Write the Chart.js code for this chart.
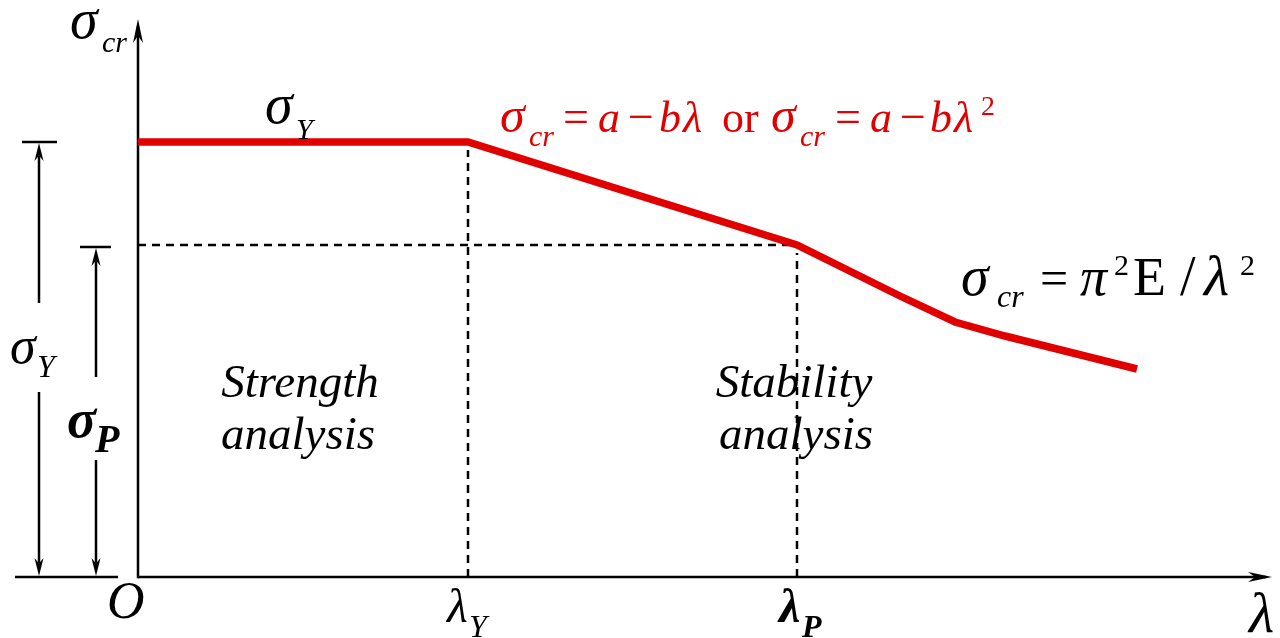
<!DOCTYPE html>
<html>
<head>
<meta charset="utf-8">
<title>Critical stress diagram</title>
<script src="https://cdn.jsdelivr.net/npm/chart.js@4/dist/chart.umd.min.js"></script>
<style>
  html, body { margin: 0; padding: 0; background: #fff; }
  canvas { display: block; }
</style>
</head>
<body>
<canvas id="sigmaChart" width="1280" height="638"></canvas>
<script>
// === Curve data (lambda on x, sigma_cr on y) ===
const lambdaPts = [0, 33.0, 65.9, 76.2, 81.7, 86.7, 99.9];
const sigmaPts = [43.5, 43.5, 33.2, 28.1, 25.5, 24.1, 20.8];

// characteristic values
const lambdaY = 33.0;
const lambdaP = 65.9;
const sigmaY = 43.5;
const sigmaP = 33.2;

// axis extents
const lambdaMax = 113.2;
const sigmaMax = 55.5;

const RED = "#e00000";
const SERIF = '"Liberation Serif", "DejaVu Serif", serif';

function font(size, style) {
    return (style || "") + " " + size + "px " + SERIF;
}

// each piece: text, font, left x, baseline y
function place(ctx, pieces, color) {
    ctx.textAlign = "left";
    ctx.textBaseline = "alphabetic";
    ctx.fillStyle = color || "#000";
    pieces.forEach(p => {
        ctx.font = p[1];
        ctx.fillText(p[0], p[2], p[3]);
    });
}

// stealth style arrow head, tip at (x, y) pointing along angle
function arrowHead(ctx, x, y, angle, len, half) {
    ctx.save();
    ctx.translate(x, y);
    ctx.rotate(angle);
    ctx.beginPath();
    ctx.moveTo(0, 0);
    ctx.lineTo(-len, -half);
    ctx.lineTo(-len * 0.7, 0);
    ctx.lineTo(-len, half);
    ctx.closePath();
    ctx.fillStyle = "#000";
    ctx.fill();
    ctx.restore();
}

function line(ctx, x1, y1, x2, y2, w) {
    ctx.beginPath();
    ctx.moveTo(x1, y1);
    ctx.lineTo(x2, y2);
    ctx.lineWidth = w || 2;
    ctx.strokeStyle = "#000";
    ctx.stroke();
}

const decorations = {
    id: "decorations",
    beforeDatasetsDraw(chart) {
        const ctx = chart.ctx;
        const xs = chart.scales.x, ys = chart.scales.y;
        const x0 = xs.getPixelForValue(0), y0 = ys.getPixelForValue(0);
        ctx.save();
        // axes
        line(ctx, x0, y0, xs.getPixelForValue(lambdaMax) - 4, y0, 2.5);
        line(ctx, x0, y0 + 1.25, x0, ys.getPixelForValue(sigmaMax) + 4, 2.5);
        arrowHead(ctx, xs.getPixelForValue(lambdaMax) + 2, y0, 0, 24, 5);
        arrowHead(ctx, x0, ys.getPixelForValue(sigmaMax) - 3, -Math.PI / 2, 24, 5);
        ctx.restore();
    },
    afterDatasetsDraw(chart) {
        const ctx = chart.ctx;
        const xs = chart.scales.x, ys = chart.scales.y;
        const y0 = ys.getPixelForValue(0);
        const yY = ys.getPixelForValue(sigmaY);
        const yP = ys.getPixelForValue(sigmaP) + 2;
        ctx.save();

        // dimension for sigma_Y
        const dY = 39;
        line(ctx, 22, yY, 57, yY, 2.5);
        line(ctx, 15, y0, 118, y0, 2.5);
        line(ctx, dY, yY + 14, dY, 303, 2.5);
        line(ctx, dY, 392, dY, y0 - 14, 2.5);
        arrowHead(ctx, dY, yY + 1, -Math.PI / 2, 18, 4.5);
        arrowHead(ctx, dY, y0 - 1, Math.PI / 2, 18, 4.5);

        // dimension for sigma_P
        const dP = 96;
        line(ctx, 80, yP, 111, yP, 2.5);
        line(ctx, dP, yP + 14, dP, 377, 2.5);
        line(ctx, dP, 460, dP, y0 - 14, 2.5);
        arrowHead(ctx, dP, yP + 1, -Math.PI / 2, 18, 4.5);
        arrowHead(ctx, dP, y0 - 1, Math.PI / 2, 18, 4.5);

        // axis titles and origin
        place(ctx, [
            ["σ", font(56, "italic"), 70, 38],
            ["cr", font(30, "italic"), 102, 52],
            ["λ", font(58, "italic"), 1249, 632],
            ["O", font(52, "italic"), 107, 618]
        ]);

        // lambda ticks
        const lx = xs.getPixelForValue(lambdaY), px = xs.getPixelForValue(lambdaP);
        place(ctx, [
            ["λ", font(48, "italic"), lx - 21, 622],
            ["Y", font(32, "italic"), lx + 1, 637],
            ["λ", font(48, "bold italic"), px - 18, 622],
            ["P", font(32, "bold italic"), px + 5, 637]
        ]);

        // sigma labels
        place(ctx, [
            ["σ", font(56, "italic"), 265, 123],
            ["Y", font(30, "italic"), 296, 139],
            ["σ", font(52, "italic"), 10, 363],
            ["Y", font(32, "italic"), 37, 377],
            ["σ", font(54, "bold italic"), 67, 437],
            ["P", font(40, "bold italic"), 95, 452]
        ]);

        // formula for the intermediate range
        const f = font(44), fi = font(44, "italic"), fs = font(50, "italic"), fc = font(30, "italic");
        const by = 132, sy = 146;
        place(ctx, [
            ["σ", fs, 500, by], ["cr", fc, 529, sy],
            ["=", font(46), 563, by], ["a", fi, 598, by], ["−", font(46), 628, by],
            ["b", fi, 659, by], ["λ", fi, 683, by],
            ["or", f, 722, by],
            ["σ", fs, 771, by], ["cr", fc, 800, sy],
            ["=", font(46), 835, by], ["a", fi, 870, by], ["−", font(46), 900, by],
            ["b", fi, 930, by], ["λ", fi, 954, by],
            ["2", font(28), 981, by - 17]
        ], RED);

        // Euler formula
        const ey = 295;
        place(ctx, [
            ["σ", font(56, "italic"), 961, ey], ["cr", font(32, "italic"), 997, ey + 12],
            ["=", font(50), 1040, ey], ["π", font(54, "italic"), 1080, ey],
            ["2", font(30), 1114, ey - 20], ["E", font(54), 1133, ey],
            ["/", font(56), 1180, ey], ["λ", font(58, "italic"), 1204, ey],
            ["2", font(30), 1240, ey - 20]
        ]);

        // region captions
        ctx.font = font(47, "italic");
        ctx.fillStyle = "#000";
        ctx.textAlign = "center";
        ctx.fillText("Strength", 300, 397);
        ctx.fillText("analysis", 298, 449);
        ctx.fillText("Stability", 794, 397);
        ctx.fillText("analysis", 796, 449);
        ctx.restore();
    }
};

const dashed = { borderColor: "#000", borderWidth: 2.5, borderDash: [8, 6], pointRadius: 0, fill: false };

new Chart(document.getElementById("sigmaChart").getContext("2d"), {
    type: "line",
    data: {
        datasets: [
            {
                label: "sigma_cr",
                data: lambdaPts.map((l, i) => ({ x: l, y: sigmaPts[i] })),
                borderColor: RED,
                borderWidth: 7.5,
                pointRadius: 0,
                tension: 0,
                fill: false,
                order: 0
            },
            Object.assign({ label: "lambda_Y", data: [{ x: lambdaY, y: 0 }, { x: lambdaY, y: sigmaY - 0.8 }], order: 1 }, dashed),
            Object.assign({ label: "lambda_P", data: [{ x: lambdaP, y: 0 }, { x: lambdaP, y: sigmaP - 0.8 }], order: 1 }, dashed),
            Object.assign({ label: "sigma_P", data: [{ x: 0, y: sigmaP }, { x: lambdaP - 0.4, y: sigmaP }], order: 1 }, dashed)
        ]
    },
    options: {
        responsive: false,
        animation: false,
        clip: false,
        layout: { padding: { left: 138, right: 10, top: 22, bottom: 61 } },
        scales: {
            x: { type: "linear", display: false, min: 0, max: lambdaMax },
            y: { type: "linear", display: false, min: 0, max: sigmaMax }
        },
        plugins: {
            legend: { display: false },
            tooltip: { enabled: false }
        }
    },
    plugins: [decorations]
});
</script>
</body>
</html>
